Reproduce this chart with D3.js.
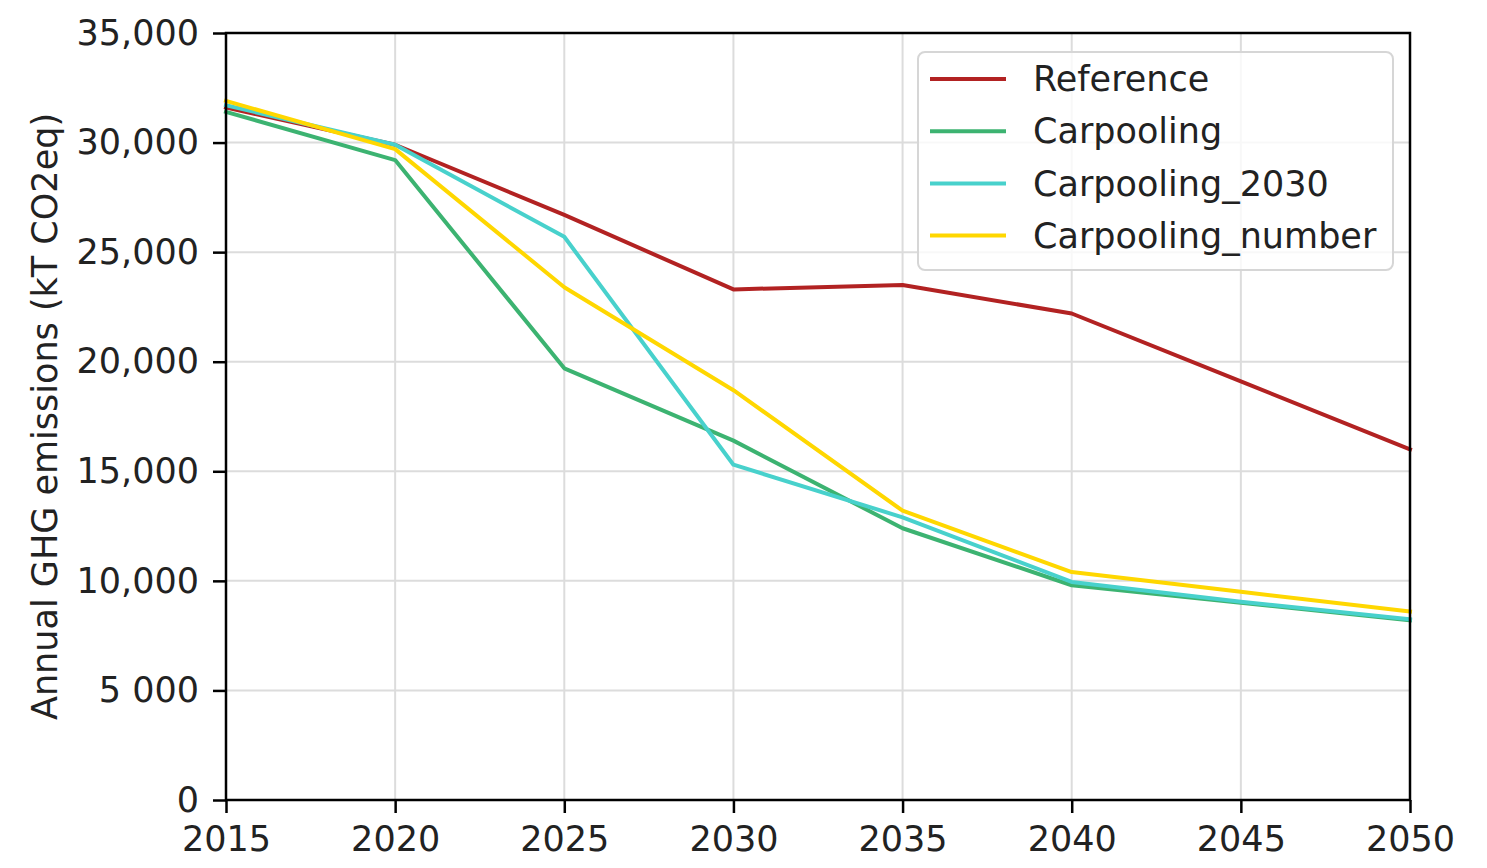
<!DOCTYPE html>
<html>
<head>
<meta charset="utf-8">
<script src="https://cdn.jsdelivr.net/npm/d3@7"></script>
<style>
  html, body { margin: 0; padding: 0; background: #fff; }
  svg { display: block; font-family: "DejaVu Sans", sans-serif; }
</style>
</head>
<body>
<svg id="chart" width="1487" height="868"></svg>
<script>
const years = [2015, 2020, 2025, 2030, 2035, 2040, 2045, 2050];
const reference = [31600, 29900, 26700, 23300, 23500, 22200, 19100, 16000];
const carpooling = [31400, 29200, 19700, 16400, 12400, 9800, 9000, 8200];
const carpooling2030 = [31700, 29900, 25700, 15300, 12900, 9950, 9050, 8250];
const carpoolingNumber = [31900, 29700, 23400, 18700, 13200, 10400, 9500, 8600];
const seriesNames = ["Reference", "Carpooling", "Carpooling_2030", "Carpooling_number"];
const seriesColors = ["#b22222", "#3cb371", "#48d1cc", "#ffd700"];
const yTicks = [0, 5000, 10000, 15000, 20000, 25000, 30000, 35000];
const yTickLabels = ["0", "5 000", "10,000", "15,000", "20,000", "25,000", "30,000", "35,000"];
const xTicks = [2015, 2020, 2025, 2030, 2035, 2040, 2045, 2050];
const yLabel = "Annual GHG emissions (kT CO2eq)";

const seriesValues = [reference, carpooling, carpooling2030, carpoolingNumber];

(function () {
const svg = d3.select("#chart");
const mLeft = 226, mRight = 1410, mTop = 33, mBottom = 800;
const x = d3.scaleLinear().domain([2015, 2050]).range([mLeft, mRight]);
const y = d3.scaleLinear().domain([0, 35000]).range([mBottom, mTop]);
const fs = 35;

// grid
const grid = svg.append("g");
grid.selectAll("line.gx").data(xTicks).enter().append("line")
  .attr("x1", d => x(d)).attr("x2", d => x(d)).attr("y1", mTop).attr("y2", mBottom)
  .attr("stroke", "#dcdcdc").attr("stroke-width", 2);
grid.selectAll("line.gy").data(yTicks).enter().append("line")
  .attr("x1", mLeft).attr("x2", mRight).attr("y1", d => y(d)).attr("y2", d => y(d))
  .attr("stroke", "#dcdcdc").attr("stroke-width", 2);

// lines
const line = d3.line().x((d, i) => x(years[i])).y(d => y(d));
seriesValues.forEach((vals, i) => {
  svg.append("path").datum(vals)
    .attr("d", line)
    .attr("fill", "none")
    .attr("stroke", seriesColors[i])
    .attr("stroke-width", 4)
    .attr("stroke-linejoin", "round")
    .attr("stroke-linecap", "square");
});

// frame
svg.append("rect").attr("x", mLeft).attr("y", mTop).attr("width", mRight - mLeft).attr("height", mBottom - mTop)
  .attr("fill", "none").attr("stroke", "#000").attr("stroke-width", 2.5);

// axes
const xAxis = d3.axisBottom(x).tickValues(xTicks).tickFormat(d3.format("d")).tickSize(13).tickPadding(13);
const gx = svg.append("g").attr("transform", `translate(0,${mBottom})`).call(xAxis);
gx.select(".domain").remove();
gx.selectAll(".tick line").attr("stroke", "#000").attr("stroke-width", 2.5);
gx.selectAll(".tick text").attr("font-size", fs).attr("fill", "#222").attr("font-family", "DejaVu Sans");

const yAxis = d3.axisLeft(y).tickValues(yTicks).tickFormat((d, i) => yTickLabels[i]).tickSize(13).tickPadding(14);
const gy = svg.append("g").attr("transform", `translate(${mLeft},0)`).call(yAxis);
gy.select(".domain").remove();
gy.selectAll(".tick line").attr("stroke", "#000").attr("stroke-width", 2.5);
gy.selectAll(".tick text").attr("font-size", fs).attr("fill", "#222").attr("font-family", "DejaVu Sans");

// y label
svg.append("text")
  .attr("transform", `translate(57,${(mTop + mBottom) / 2}) rotate(-90)`)
  .attr("text-anchor", "middle")
  .attr("font-size", fs)
  .attr("fill", "#222")
  .text(yLabel);

// legend
const lg = svg.append("g");
lg.append("rect").attr("x", 918).attr("y", 52).attr("width", 475).attr("height", 218)
  .attr("rx", 7).attr("fill", "#fff").attr("fill-opacity", 0.8)
  .attr("stroke", "#d6d6d6").attr("stroke-width", 2);
seriesNames.forEach((name, i) => {
  const yy = 79 + i * 52.2;
  lg.append("line").attr("x1", 930).attr("x2", 1006).attr("y1", yy).attr("y2", yy)
    .attr("stroke", seriesColors[i]).attr("stroke-width", 4);
  lg.append("text").attr("x", 1033).attr("y", yy).attr("dy", "0.35em")
    .attr("font-size", fs).attr("fill", "#222").text(name);
});
})();
</script>
</body>
</html>
